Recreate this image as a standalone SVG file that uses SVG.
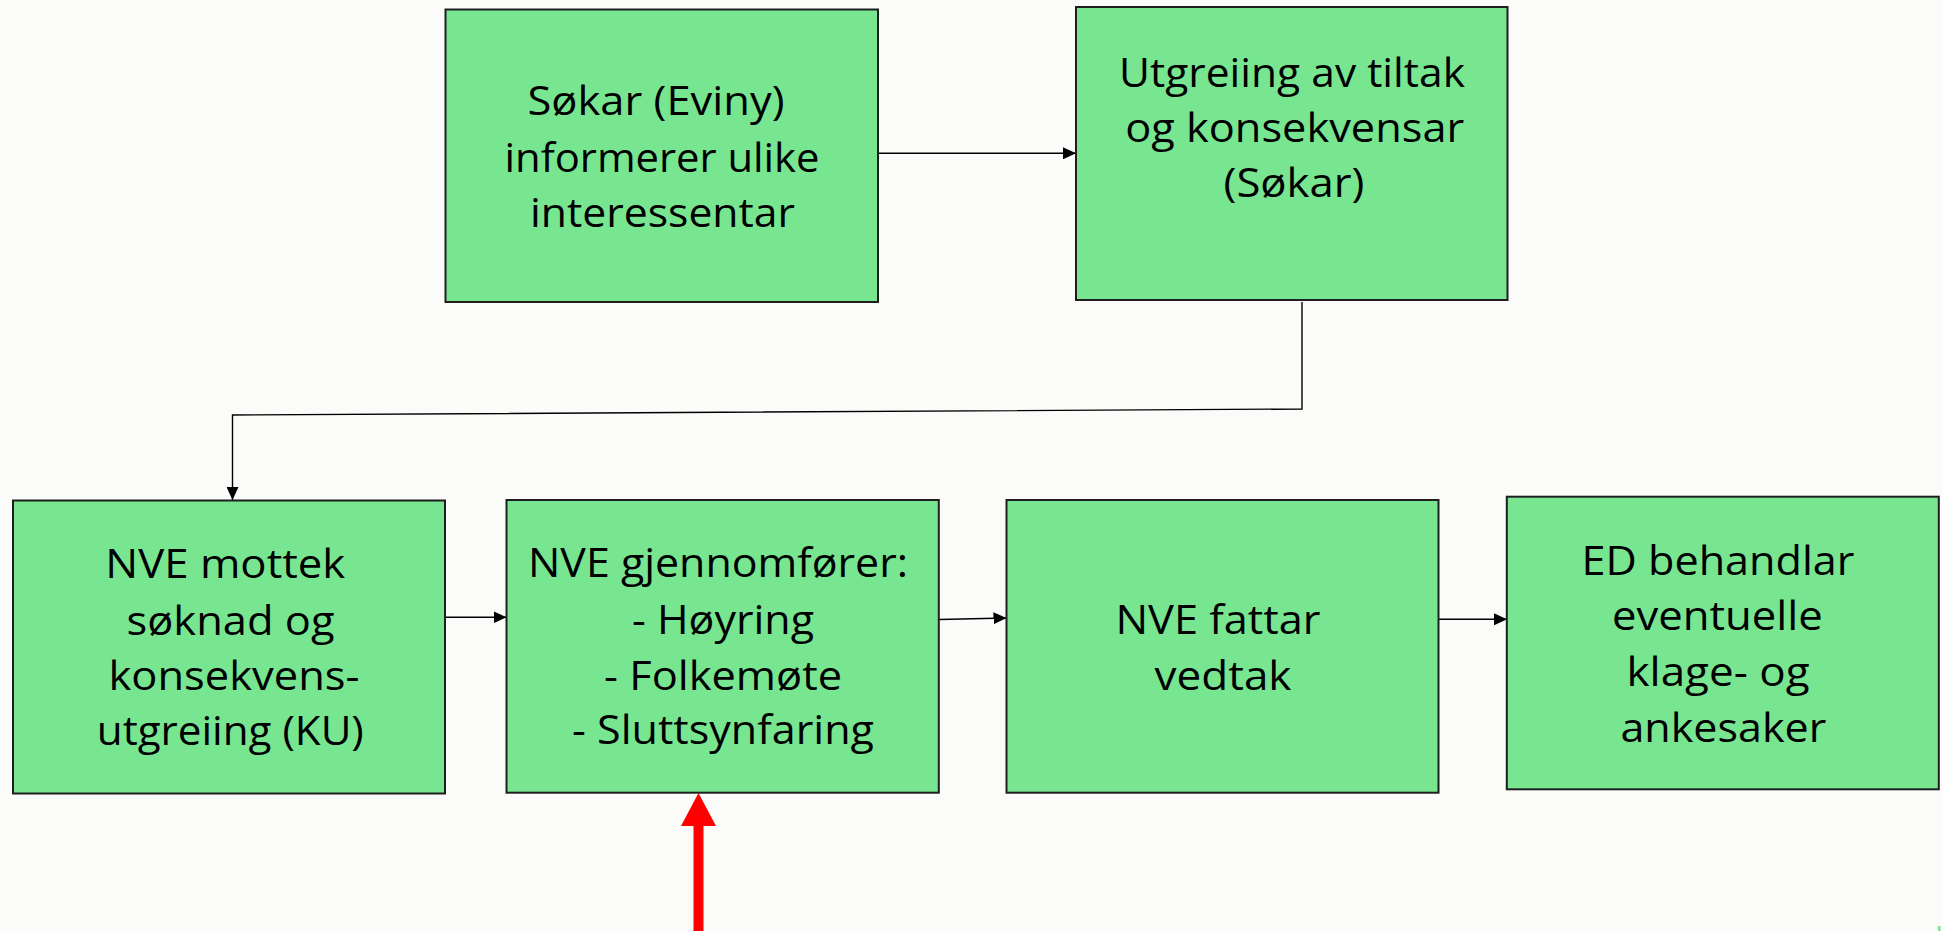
<svg xmlns="http://www.w3.org/2000/svg" width="1942" height="931" viewBox="0 0 1942 931">
<defs>
<style>
.box{fill:#78E690;stroke:#1e1e1e;stroke-width:2}
.t{font-family:"Open Sans","Liberation Sans",sans-serif;font-size:41px;fill:#000;text-anchor:middle}
.c{fill:none;stroke:#000;stroke-width:1.4}
</style>
<marker id="ah" markerUnits="userSpaceOnUse" markerWidth="14" markerHeight="12" refX="13" refY="6" orient="auto">
<path d="M0,0 L13,6 L0,12 z" fill="#000"/>
</marker>
</defs>
<rect x="0" y="0" width="1942" height="931" fill="#FBFCFA"/>
<g id="connectors">
<path class="c" d="M878,153.3 H1076" marker-end="url(#ah)"/>
<path class="c" d="M1302,302 V409 L232.5,415 V500" marker-end="url(#ah)"/>
<path class="c" d="M445,617.3 H506.5" marker-end="url(#ah)"/>
<path class="c" d="M939,619.5 L1006.5,618" marker-end="url(#ah)"/>
<path class="c" d="M1438.5,619.3 H1507" marker-end="url(#ah)"/>
<g id="red-arrow">
<line x1="698.5" y1="931" x2="698.5" y2="824" stroke="#FF0000" stroke-width="10"/>
<polygon points="681,826 716,826 698.5,793" fill="#FF0000"/>
</g>
</g>
<g id="n1">
<rect class="box" x="445.5" y="9.5" width="432.5" height="292.5"/>
<text class="t" x="656" y="115" textLength="257" lengthAdjust="spacingAndGlyphs">Søkar (Eviny)</text>
<text class="t" x="662" y="171.5" textLength="315" lengthAdjust="spacingAndGlyphs">informerer ulike</text>
<text class="t" x="662.5" y="227" textLength="265" lengthAdjust="spacingAndGlyphs">interessentar</text>
</g>
<g id="n2">
<rect class="box" x="1076" y="7" width="431.5" height="293"/>
<text class="t" x="1292" y="87" textLength="346" lengthAdjust="spacingAndGlyphs">Utgreiing av tiltak</text>
<text class="t" x="1294.7" y="142" textLength="339" lengthAdjust="spacingAndGlyphs">og konsekvensar</text>
<text class="t" x="1294" y="197" textLength="141" lengthAdjust="spacingAndGlyphs">(Søkar)</text>
</g>
<g id="n3">
<rect class="box" x="13" y="500.5" width="432" height="293"/>
<text class="t" x="225.3" y="578" textLength="240" lengthAdjust="spacingAndGlyphs">NVE mottek</text>
<text class="t" x="230.5" y="635" textLength="208" lengthAdjust="spacingAndGlyphs">søknad og</text>
<text class="t" x="234" y="690" textLength="251" lengthAdjust="spacingAndGlyphs">konsekvens-</text>
<text class="t" x="230.3" y="745" textLength="267" lengthAdjust="spacingAndGlyphs">utgreiing (KU)</text>
</g>
<g id="n4">
<rect class="box" x="506.5" y="500" width="432.3" height="292.7"/>
<text class="t" x="718" y="577" textLength="380" lengthAdjust="spacingAndGlyphs">NVE gjennomfører:</text>
<text class="t" x="723" y="633.5" textLength="182" lengthAdjust="spacingAndGlyphs">- Høyring</text>
<text class="t" x="723" y="689.5" textLength="238" lengthAdjust="spacingAndGlyphs">- Folkemøte</text>
<text class="t" x="723" y="743.5" textLength="302" lengthAdjust="spacingAndGlyphs">- Sluttsynfaring</text>
</g>
<g id="n5">
<rect class="box" x="1006.5" y="500" width="432" height="292.7"/>
<text class="t" x="1218" y="633.5" textLength="205" lengthAdjust="spacingAndGlyphs">NVE fattar</text>
<text class="t" x="1223" y="690" textLength="137" lengthAdjust="spacingAndGlyphs">vedtak</text>
</g>
<g id="n6">
<rect class="box" x="1506.8" y="496.7" width="432" height="292.6"/>
<text class="t" x="1718" y="575" textLength="273" lengthAdjust="spacingAndGlyphs">ED behandlar</text>
<text class="t" x="1717.4" y="630" textLength="211" lengthAdjust="spacingAndGlyphs">eventuelle</text>
<text class="t" x="1718" y="686" textLength="183" lengthAdjust="spacingAndGlyphs">klage- og</text>
<text class="t" x="1723.4" y="741.7" textLength="206" lengthAdjust="spacingAndGlyphs">ankesaker</text>
</g>
<rect x="1938" y="926" width="2.5" height="5" fill="#78E690"/>
</svg>
